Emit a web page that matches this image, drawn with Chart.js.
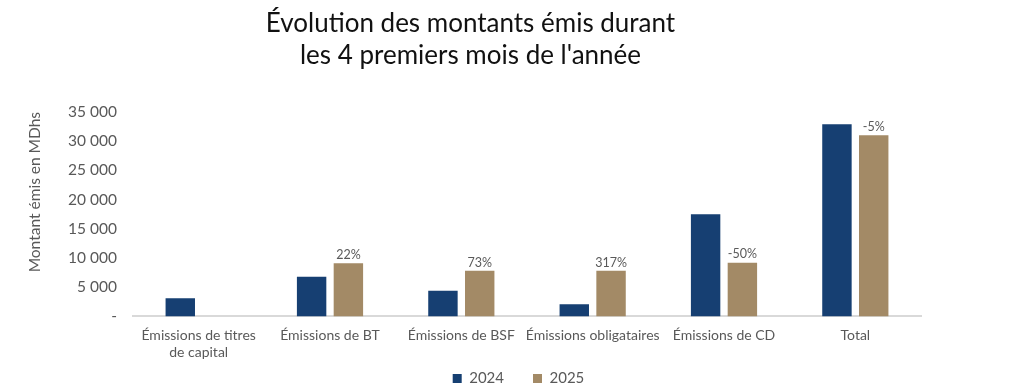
<!DOCTYPE html>
<html>
<head>
<meta charset="utf-8">
<script src="https://cdn.jsdelivr.net/npm/chart.js@4.4.1/dist/chart.umd.min.js"></script>
<style>
  html, body { margin: 0; padding: 0; background: #fff; }
  #wrap { width: 1024px; height: 392px; position: relative; }
</style>
</head>
<body>
<div id="wrap"><canvas id="c"></canvas></div>
<script>
const categories = [
  ["Émissions de titres", "de capital"],
  "Émissions de BT",
  "Émissions de BSF",
  "Émissions obligataires",
  "Émissions de CD",
  "Total"
];
const values2024 = [3100, 6800, 4400, 2100, 17500, 32900];
const values2025 = [null, 9100, 7800, 7800, 9200, 31000];
const changeLabels = ["", "22%", "73%", "317%", "-50%", "-5%"];
const yTicks = { min: 0, max: 35000, step: 5000 };

const FONT = "Lato, 'Open Sans', sans-serif";
const GREY = "#595959";

// percentage labels above the 2025 bars
const changeLabelPlugin = {
  id: "changeLabels",
  afterDatasetsDraw(chart) {
    const ctx = chart.ctx;
    const meta = chart.getDatasetMeta(1);
    ctx.save();
    ctx.font = "12.5px " + FONT;
    ctx.fillStyle = GREY;
    ctx.textAlign = "center";
    ctx.textBaseline = "bottom";
    meta.data.forEach((bar, i) => {
      if (!changeLabels[i] || values2025[i] == null) return;
      ctx.fillText(changeLabels[i], bar.x, bar.y - 2);
    });
    ctx.restore();
  }
};

// wide item spacing but a short legend box, centred on the page
const legendTweak = {
  id: "legendTweak",
  beforeLayout(chart) {
    const lg = chart.legend;
    if (lg && !lg._trimmed) {
      const fit = lg.fit;
      lg.fit = function () { fit.call(this); this.height -= 26; };
      lg._trimmed = true;
    }
  },
  afterLayout(chart) {
    const lg = chart.legend;
    lg.left += 48; lg.right += 48;
    lg.top -= 22;
  }
};

new Chart(document.getElementById("c"), {
  type: "bar",
  data: {
    labels: categories,
    datasets: [
      { label: "2024", data: values2024, backgroundColor: "#163f72" },
      { label: "2025", data: values2025, backgroundColor: "#a38a66" }
    ]
  },
  options: {
    responsive: true, maintainAspectRatio: false, animation: false,
    datasets: { bar: { categoryPercentage: 0.56, barPercentage: 0.8 } },
    layout: { padding: { left: 20, right: 103, top: 7, bottom: 0 } },
    plugins: {
      title: {
        display: true,
        text: ["Évolution des montants émis durant", "les 4 premiers mois de l'année"],
        color: "#111",
        font: { family: FONT, size: 26, weight: "normal", lineHeight: 1.25 },
        padding: { top: 0, bottom: 40 }
      },
      legend: {
        position: "bottom",
        labels: { color: GREY, font: { family: FONT, size: 15 }, boxWidth: 9, boxHeight: 9, padding: 29 }
      },
      tooltip: { enabled: false }
    },
    scales: {
      x: {
        grid: { display: false },
        border: { color: "#d9d9d9", width: 2 },
        ticks: { color: GREY, font: { family: FONT, size: 14 }, maxRotation: 0, autoSkip: false, padding: 3 }
      },
      y: {
        min: yTicks.min, max: yTicks.max,
        afterFit(scale) { scale.width = 113; },
        grid: { display: false },
        border: { display: false },
        ticks: {
          stepSize: yTicks.step, color: GREY, padding: 8,
          font: { family: FONT, size: 15.5 },
          callback: v => v === 0 ? "-" : String(v).replace(/\B(?=(\d{3})+(?!\d))/g, " ")
        },
        title: {
          display: true, text: "Montant émis en MDhs", color: GREY, align: "end",
          font: { family: FONT, size: 15.5 }, padding: { top: 6, bottom: 0 }
        }
      }
    }
  },
  plugins: [changeLabelPlugin, legendTweak]
});
</script>
</body>
</html>
